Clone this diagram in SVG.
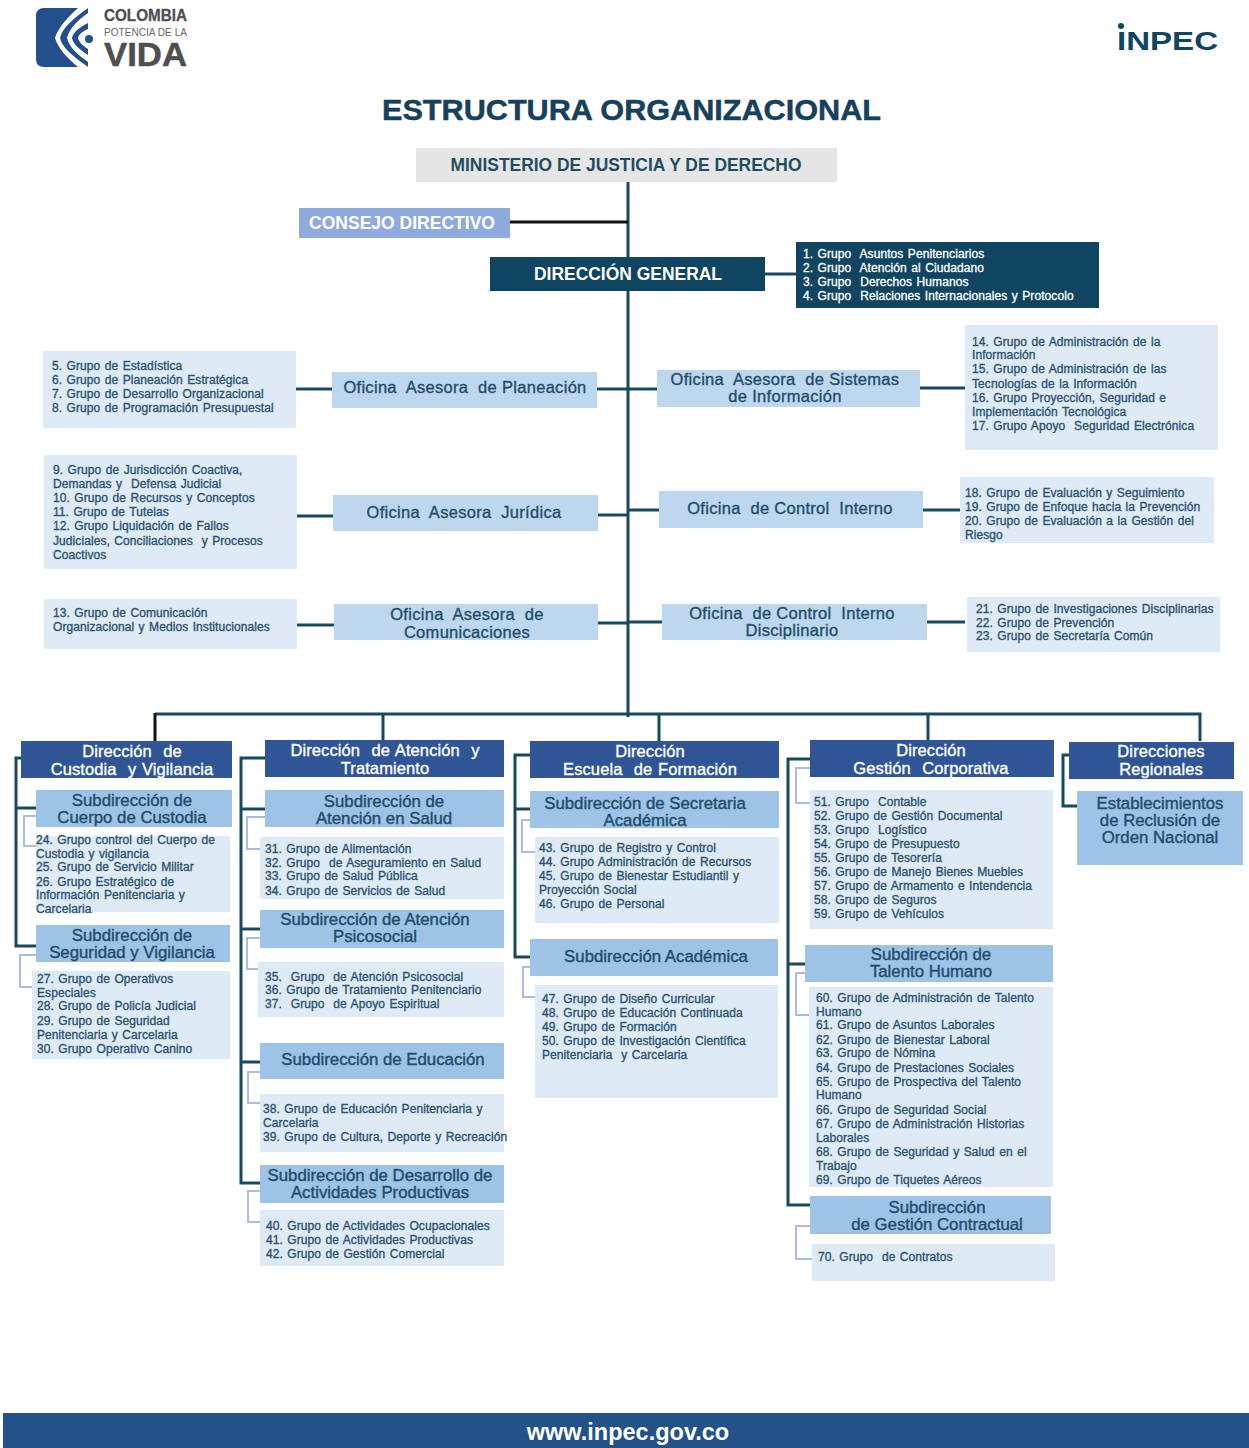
<svg xmlns="http://www.w3.org/2000/svg" width="1249" height="1448" viewBox="0 0 1249 1448">
<style>
text{font-family:"Liberation Sans",Arial,sans-serif;white-space:pre}
.l{font-size:12px;fill:#2c5470;stroke:#2c5470;stroke-width:.35px;word-spacing:1px;letter-spacing:.08px}
.lw{font-size:12px;fill:#fff;stroke:#fff;stroke-width:.3px;word-spacing:1px;letter-spacing:.08px}
.o{font-size:16.5px;fill:#1f4e6b;stroke:#1f4e6b;stroke-width:.35px;text-anchor:middle;letter-spacing:.3px}
.s{font-size:16.8px;fill:#1f4e6b;stroke:#1f4e6b;stroke-width:.4px;text-anchor:middle}
.d{font-size:16.5px;fill:#fff;stroke:#fff;stroke-width:.35px;text-anchor:middle;word-spacing:1px;letter-spacing:.1px}
.h{font-size:18px;font-weight:700;text-anchor:middle}
.list{fill:#deebf7}.sub{fill:#9dc3e6}.ofi{fill:#bdd7ee}.dir{fill:#2f5597}.navy{fill:#0f4561}
.c{fill:none;stroke:#17495f;stroke-width:3}
.cl{fill:none;stroke:#a9bde3;stroke-width:2}
</style>
<g id="logo-colombia">
<path d="M44 8H78C67 18 58 28 55 38C58 48 67 58 78 67H44Q36 67 36 59V16Q36 8 44 8Z" fill="#23508c"/>
<path d="M88 8C74 18 62 28 60 38C62 48 74 57 88 67V62C78 55 69 47 67 38C69 29 78 20 88 13Z" fill="#23508c"/>
<path d="M88 23C80 27 73 32 72 38C73 44 80 50 88 55V49C83 46 79 42 78 38C79 34 83 31 88 29Z" fill="#23508c"/>
<circle cx="89" cy="39" r="4" fill="#23508c"/>
<text x="104" y="21" font-size="16" font-weight="700" fill="#4f4f4f" stroke="#4f4f4f" stroke-width=".3" textLength="83" lengthAdjust="spacingAndGlyphs">COLOMBIA</text>
<text x="104" y="36" font-size="11.5" fill="#6a6a6a" textLength="83" lengthAdjust="spacingAndGlyphs">POTENCIA DE LA</text>
<text x="104" y="66" font-size="33" font-weight="700" fill="#4f4f4f" stroke="#4f4f4f" stroke-width=".5" textLength="83" lengthAdjust="spacingAndGlyphs">VIDA</text>
</g>
<g id="logo-inpec"><circle cx="1121" cy="26" r="3" fill="#0f4561"/><text x="1117" y="50" font-family="DejaVu Sans" font-size="25" font-weight="700" fill="#0f4561" textLength="101" lengthAdjust="spacingAndGlyphs">INPEC</text></g>
<text id="titulo" x="631.500" y="120" font-size="30" font-weight="700" fill="#17405c" stroke="#17405c" stroke-width=".5" text-anchor="middle" textLength="499" lengthAdjust="spacingAndGlyphs">ESTRUCTURA ORGANIZACIONAL</text>

<g id="connectors">
<path class="c" d="M628 182V717"/>
<path class="c" style="stroke:#111" d="M510 222H628"/>
<path class="c" d="M765 274H796M296 389H332M597 389H628M628 389H657M920 388H965M297 516H333M598 515H628M628 510H659M923 510H960M297 625H334M598 623H628M628 622H662M927 622H965"/>
<path class="c" d="M155 714H1200V741M383 714V741M659 714V741M928 714V741"/>
<path class="c" style="stroke:#111" d="M155 713V741"/>
<path class="c" d="M21 758H16V946H36M16 808H36"/>
<path class="c" d="M265 758H241V1183H260M241 809H265M241 929H260M241 1062H260"/>
<path class="c" d="M530 755H515V957H530M515 809H530"/>
<path class="c" d="M810 759H788V1205H810M788 964H805"/>
<path class="c" d="M1069 755H1063V806H1077"/>
<path class="cl" d="M36 816H24V846H36M36 955H20V987H32"/>
<path class="cl" d="M265 817H247V849H260M260 938H247V969H258M260 1072H248V1103H260M260 1191H248V1222H260"/>
<path class="cl" d="M530 820H522V852H535M530 967H523V997H535"/>
<path class="cl" d="M810 768H796V803H810M805 973H796V1015H810M811 1226H796V1259H812"/>
</g>

<g id="ministerio"><rect x="416" y="148" width="421" height="34" fill="#e7e6e6"/><text class="h" x="626" y="171" fill="#1f4e5f" textLength="351" lengthAdjust="spacingAndGlyphs">MINISTERIO DE JUSTICIA Y DE DERECHO</text></g>
<g id="consejo"><rect x="299" y="208" width="211" height="30" fill="#8faadc"/><text class="h" x="402" y="229" fill="#fff" textLength="186" lengthAdjust="spacingAndGlyphs">CONSEJO DIRECTIVO</text></g>
<g id="direccion-general"><rect class="navy" x="490" y="257" width="275" height="34"/><text class="h" x="628" y="280" fill="#fff" textLength="188" lengthAdjust="spacingAndGlyphs">DIRECCIÓN GENERAL</text></g>
<g id="grupos-1-4"><rect class="navy" x="796" y="242" width="303" height="66"/>
<text class="lw" x="803" y="258">1. Grupo  Asuntos Penitenciarios</text>
<text class="lw" x="803" y="272">2. Grupo  Atención al Ciudadano</text>
<text class="lw" x="803" y="286">3. Grupo  Derechos Humanos</text>
<text class="lw" x="803" y="300">4. Grupo  Relaciones Internacionales y Protocolo</text></g>

<g id="grupos-5-8"><rect class="list" x="43" y="351" width="253" height="77"/>
<text class="l" x="52" y="370">5. Grupo de Estadística</text>
<text class="l" x="52" y="384">6. Grupo de Planeación Estratégica</text>
<text class="l" x="52" y="398">7. Grupo de Desarrollo Organizacional</text>
<text class="l" x="52" y="412">8. Grupo de Programación Presupuestal</text></g>
<g id="oficina-planeacion"><rect class="ofi" x="332" y="372" width="265" height="36"/><text class="o" x="465" y="393">Oficina  Asesora  de Planeación</text></g>
<g id="oficina-sistemas"><rect class="ofi" x="657" y="370" width="263" height="37"/><text class="o" x="785" y="385">Oficina  Asesora  de Sistemas</text><text class="o" x="785" y="402">de Información</text></g>
<g id="grupos-14-17"><rect class="list" x="965" y="325" width="253" height="125"/>
<text class="l" x="972" y="346">14. Grupo de Administración de la</text>
<text class="l" x="972" y="359">Información</text>
<text class="l" x="972" y="373">15. Grupo de Administración de las</text>
<text class="l" x="972" y="388">Tecnologías de la Información</text>
<text class="l" x="972" y="402">16. Grupo Proyección, Seguridad e</text>
<text class="l" x="972" y="416">Implementación Tecnológica</text>
<text class="l" x="972" y="430">17. Grupo Apoyo  Seguridad Electrónica</text></g>

<g id="grupos-9-12"><rect class="list" x="44" y="455" width="253" height="114"/>
<text class="l" x="53" y="474">9. Grupo de Jurisdicción Coactiva,</text>
<text class="l" x="53" y="488">Demandas y  Defensa Judicial</text>
<text class="l" x="53" y="502">10. Grupo de Recursos y Conceptos</text>
<text class="l" x="53" y="516">11. Grupo de Tutelas</text>
<text class="l" x="53" y="530">12. Grupo Liquidación de Fallos</text>
<text class="l" x="53" y="545">Judiciales, Conciliaciones  y Procesos</text>
<text class="l" x="53" y="559">Coactivos</text></g>
<g id="oficina-juridica"><rect class="ofi" x="333" y="495" width="265" height="36"/><text class="o" x="464" y="518">Oficina  Asesora  Jurídica</text></g>
<g id="oficina-control"><rect class="ofi" x="659" y="491" width="264" height="37"/><text class="o" x="790" y="514">Oficina  de Control  Interno</text></g>
<g id="grupos-18-20"><rect class="list" x="960" y="477" width="254" height="66"/>
<text class="l" x="965" y="497">18. Grupo de Evaluación y Seguimiento</text>
<text class="l" x="965" y="511">19. Grupo de Enfoque hacia la Prevención</text>
<text class="l" x="965" y="525">20. Grupo de Evaluación a la Gestión del</text>
<text class="l" x="965" y="539">Riesgo</text></g>

<g id="grupo-13"><rect class="list" x="44" y="599" width="253" height="50"/>
<text class="l" x="53" y="617">13. Grupo de Comunicación</text>
<text class="l" x="53" y="631">Organizacional y Medios Institucionales</text></g>
<g id="oficina-comunicaciones"><rect class="ofi" x="334" y="604" width="264" height="36"/><text class="o" x="467" y="620">Oficina  Asesora  de</text><text class="o" x="467" y="638">Comunicaciones</text></g>
<g id="oficina-disciplinario"><rect class="ofi" x="662" y="604" width="265" height="36"/><text class="o" x="792" y="619">Oficina  de Control  Interno</text><text class="o" x="792" y="636">Disciplinario</text></g>
<g id="grupos-21-23"><rect class="list" x="967" y="597" width="253" height="55"/>
<text class="l" x="976" y="613">21. Grupo de Investigaciones Disciplinarias</text>
<text class="l" x="976" y="627">22. Grupo de Prevención</text>
<text class="l" x="976" y="640">23. Grupo de Secretaría Común</text></g>

<g id="dir-custodia"><rect class="dir" x="21" y="741" width="211" height="37"/><text class="d" x="132" y="757">Dirección  de</text><text class="d" x="132" y="775">Custodia  y Vigilancia</text></g>
<g id="sub-cuerpo"><rect class="sub" x="36" y="790" width="196" height="37"/><text class="s" x="132" y="806">Subdirección de</text><text class="s" x="132" y="823">Cuerpo de Custodia</text></g>
<g id="grupos-24-26"><rect class="list" x="36" y="836" width="194" height="76"/>
<text class="l" x="36" y="844">24. Grupo control del Cuerpo de</text>
<text class="l" x="36" y="858">Custodia y vigilancia</text>
<text class="l" x="36" y="871">25. Grupo de Servicio Militar</text>
<text class="l" x="36" y="886">26. Grupo Estratégico de</text>
<text class="l" x="36" y="899">Información Penitenciaria y</text>
<text class="l" x="36" y="913">Carcelaria</text></g>
<g id="sub-seguridad"><rect class="sub" x="36" y="925" width="194" height="37"/><text class="s" x="132" y="941">Subdirección de</text><text class="s" x="132" y="958">Seguridad y Vigilancia</text></g>
<g id="grupos-27-30"><rect class="list" x="32" y="971" width="198" height="88"/>
<text class="l" x="37" y="983">27. Grupo de Operativos</text>
<text class="l" x="37" y="997">Especiales</text>
<text class="l" x="37" y="1010">28. Grupo de Policía Judicial</text>
<text class="l" x="37" y="1025">29. Grupo de Seguridad</text>
<text class="l" x="37" y="1039">Penitenciaria y Carcelaria</text>
<text class="l" x="37" y="1053">30. Grupo Operativo Canino</text></g>

<g id="dir-atencion"><rect class="dir" x="265" y="740" width="239" height="37"/><text class="d" x="385" y="756">Dirección  de Atención  y</text><text class="d" x="385" y="774">Tratamiento</text></g>
<g id="sub-salud"><rect class="sub" x="265" y="790" width="239" height="37"/><text class="s" x="384" y="807">Subdirección de</text><text class="s" x="384" y="824">Atención en Salud</text></g>
<g id="grupos-31-34"><rect class="list" x="260" y="837" width="244" height="62"/>
<text class="l" x="265" y="853">31. Grupo de Alimentación</text>
<text class="l" x="265" y="867">32. Grupo  de Aseguramiento en Salud</text>
<text class="l" x="265" y="880">33. Grupo de Salud Pública</text>
<text class="l" x="265" y="895">34. Grupo de Servicios de Salud</text></g>
<g id="sub-psicosocial"><rect class="sub" x="260" y="910" width="244" height="38"/><text class="s" x="375" y="924.500">Subdirección de Atención</text><text class="s" x="375" y="941.500">Psicosocial</text></g>
<g id="grupos-35-37"><rect class="list" x="258" y="962" width="246" height="55"/>
<text class="l" x="265" y="981">35.  Grupo  de Atención Psicosocial</text>
<text class="l" x="265" y="994">36. Grupo de Tratamiento Penitenciario</text>
<text class="l" x="265" y="1008">37.  Grupo  de Apoyo Espiritual</text></g>
<g id="sub-educacion"><rect class="sub" x="260" y="1043" width="244" height="36"/><text class="s" x="383" y="1065">Subdirección de Educación</text></g>
<g id="grupos-38-39"><rect class="list" x="260" y="1094" width="244" height="58"/>
<text class="l" x="263" y="1113">38. Grupo de Educación Penitenciaria y</text>
<text class="l" x="263" y="1127">Carcelaria</text>
<text class="l" x="263" y="1141">39. Grupo de Cultura, Deporte y Recreación</text></g>
<g id="sub-productivas"><rect class="sub" x="260" y="1165" width="244" height="38"/><text class="s" x="380" y="1180.500">Subdirección de Desarrollo de</text><text class="s" x="380" y="1197.500">Actividades Productivas</text></g>
<g id="grupos-40-42"><rect class="list" x="260" y="1210" width="244" height="56"/>
<text class="l" x="266" y="1230">40. Grupo de Actividades Ocupacionales</text>
<text class="l" x="266" y="1244">41. Grupo de Actividades Productivas</text>
<text class="l" x="266" y="1258">42. Grupo de Gestión Comercial</text></g>

<g id="dir-escuela"><rect class="dir" x="530" y="741" width="249" height="37"/><text class="d" x="650" y="757">Dirección</text><text class="d" x="650" y="775">Escuela  de Formación</text></g>
<g id="sub-secretaria"><rect class="sub" x="530" y="791" width="249" height="37"/><text class="s" x="645" y="808.500">Subdirección de Secretaria</text><text class="s" x="645" y="825.500">Académica</text></g>
<g id="grupos-43-46"><rect class="list" x="535" y="837" width="244" height="86"/>
<text class="l" x="539" y="852">43. Grupo de Registro y Control</text>
<text class="l" x="539" y="866">44. Grupo Administración de Recursos</text>
<text class="l" x="539" y="880">45. Grupo de Bienestar Estudiantil y</text>
<text class="l" x="539" y="894">Proyección Social</text>
<text class="l" x="539" y="908">46. Grupo de Personal</text></g>
<g id="sub-academica"><rect class="sub" x="530" y="939" width="248" height="37"/><text class="s" x="656" y="962">Subdirección Académica</text></g>
<g id="grupos-47-50"><rect class="list" x="535" y="985" width="243" height="113"/>
<text class="l" x="542" y="1003">47. Grupo de Diseño Curricular</text>
<text class="l" x="542" y="1017">48. Grupo de Educación Continuada</text>
<text class="l" x="542" y="1031">49. Grupo de Formación</text>
<text class="l" x="542" y="1045">50. Grupo de Investigación Científica</text>
<text class="l" x="542" y="1059">Penitenciaria  y Carcelaria</text></g>

<g id="dir-gestion"><rect class="dir" x="810" y="740" width="244" height="37"/><text class="d" x="931" y="756">Dirección</text><text class="d" x="931" y="774">Gestión  Corporativa</text></g>
<g id="grupos-51-59"><rect class="list" x="810" y="790" width="243" height="139"/>
<text class="l" x="814" y="806">51. Grupo  Contable</text>
<text class="l" x="814" y="820">52. Grupo de Gestión Documental</text>
<text class="l" x="814" y="834">53. Grupo  Logístico</text>
<text class="l" x="814" y="848">54. Grupo de Presupuesto</text>
<text class="l" x="814" y="862">55. Grupo de Tesorería</text>
<text class="l" x="814" y="876">56. Grupo de Manejo Bienes Muebles</text>
<text class="l" x="814" y="890">57. Grupo de Armamento e Intendencia</text>
<text class="l" x="814" y="904">58. Grupo de Seguros</text>
<text class="l" x="814" y="918">59. Grupo de Vehículos</text></g>
<g id="sub-talento"><rect class="sub" x="805" y="945" width="248" height="37"/><text class="s" x="931" y="959.500">Subdirección de</text><text class="s" x="931" y="976.500">Talento Humano</text></g>
<g id="grupos-60-69"><rect class="list" x="809" y="987" width="244" height="200"/>
<text class="l" x="816" y="1002">60. Grupo de Administración de Talento</text>
<text class="l" x="816" y="1016">Humano</text>
<text class="l" x="816" y="1029">61. Grupo de Asuntos Laborales</text>
<text class="l" x="816" y="1044">62. Grupo de Bienestar Laboral</text>
<text class="l" x="816" y="1057">63. Grupo de Nómina</text>
<text class="l" x="816" y="1072">64. Grupo de Prestaciones Sociales</text>
<text class="l" x="816" y="1086">65. Grupo de Prospectiva del Talento</text>
<text class="l" x="816" y="1099">Humano</text>
<text class="l" x="816" y="1114">66. Grupo de Seguridad Social</text>
<text class="l" x="816" y="1128">67. Grupo de Administración Historias</text>
<text class="l" x="816" y="1142">Laborales</text>
<text class="l" x="816" y="1156">68. Grupo de Seguridad y Salud en el</text>
<text class="l" x="816" y="1170">Trabajo</text>
<text class="l" x="816" y="1184">69. Grupo de Tiquetes Aéreos</text></g>
<g id="sub-contractual"><rect class="sub" x="810" y="1196" width="241" height="38"/><text class="s" x="937" y="1213">Subdirección</text><text class="s" x="937" y="1230">de Gestión Contractual</text></g>
<g id="grupo-70"><rect class="list" x="812" y="1244" width="243" height="37"/><text class="l" x="818" y="1261">70. Grupo  de Contratos</text></g>

<g id="dir-regionales"><rect class="dir" x="1069" y="742" width="165" height="37"/><text class="d" x="1161" y="757">Direcciones</text><text class="d" x="1161" y="775">Regionales</text></g>
<g id="establecimientos"><rect class="sub" x="1077" y="791" width="166" height="74"/><text class="s" x="1160" y="809">Establecimientos</text><text class="s" x="1160" y="825.500">de Reclusión de</text><text class="s" x="1160" y="842.500">Orden Nacional</text></g>

<g id="pie"><rect x="3" y="1413" width="1246" height="35" fill="#23528a"/><text x="628" y="1440" font-size="23.500" font-weight="700" fill="#fff" text-anchor="middle">www.inpec.gov.co</text></g>
</svg>
